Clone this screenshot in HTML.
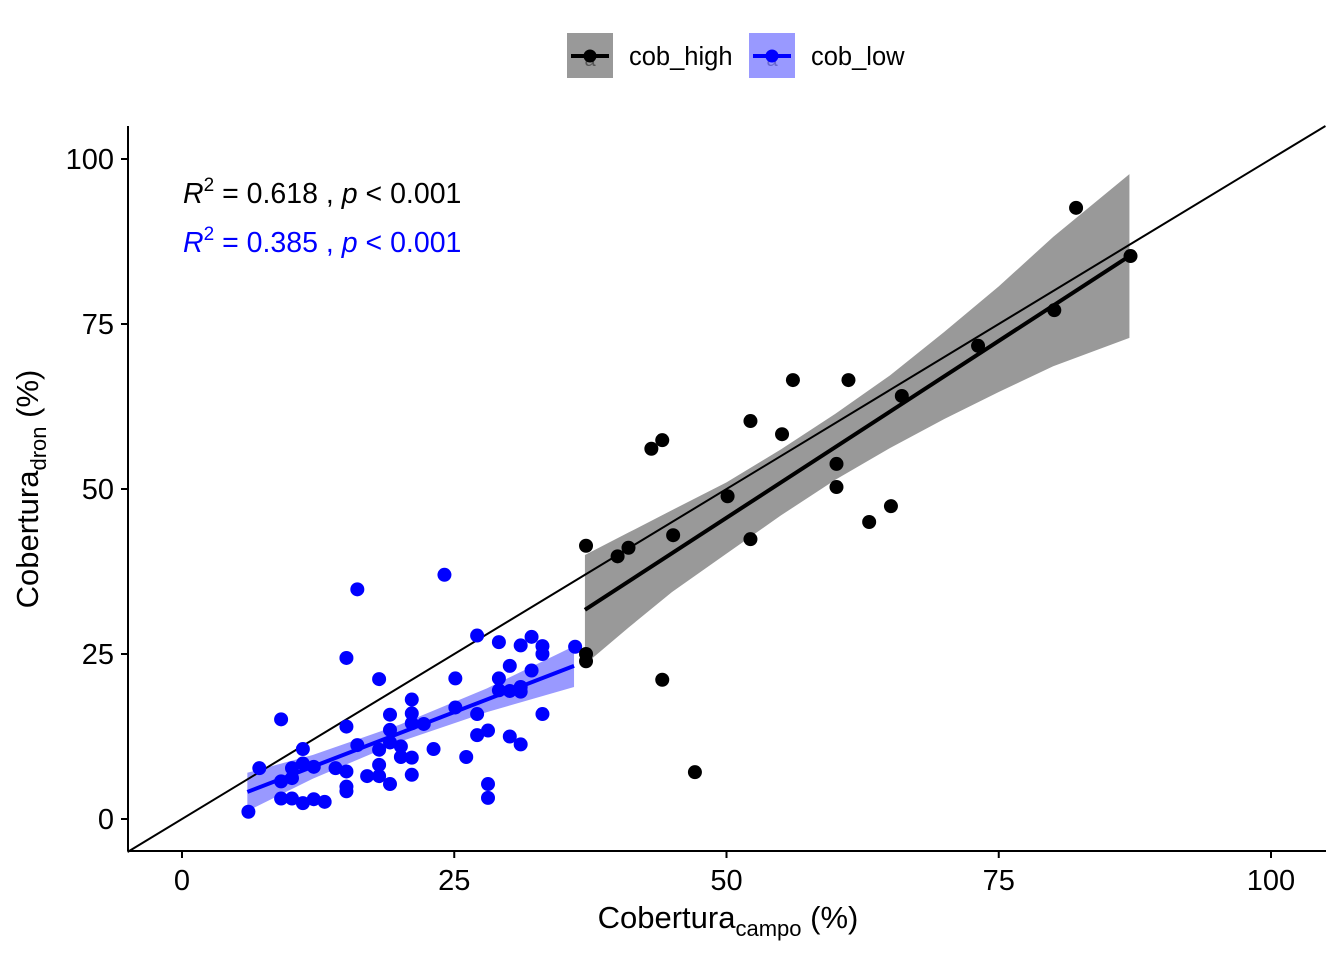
<!DOCTYPE html>
<html><head><meta charset="utf-8"><style>
html,body{margin:0;padding:0;background:#fff;}
svg{display:block;font-family:"Liberation Sans",Arial,sans-serif;}
</style></head><body>
<svg id="chart" width="1344" height="960" viewBox="0 0 1344 960" xmlns="http://www.w3.org/2000/svg">
<g id="bands"></g><g id="lines"></g><g id="points"></g><g id="axes"></g>
<g>
  <g>
    <rect x="567" y="33" width="46" height="45" fill="#999999"/>
    <text x="590" y="66" font-size="20" text-anchor="middle" fill="#555">a</text>
    <line x1="571" y1="56" x2="609" y2="56" stroke="#000" stroke-width="4"/>
    <circle cx="590" cy="56" r="6.5" fill="#000"/>
    <text x="629" y="65" font-size="25.5" fill="#000">cob_high</text>
  </g>
  <g>
    <rect x="749" y="33" width="46" height="45" fill="#9999ff"/>
    <text x="772" y="66" font-size="20" text-anchor="middle" fill="#6666cc">a</text>
    <line x1="753" y1="56" x2="791" y2="56" stroke="#0000ff" stroke-width="4"/>
    <circle cx="772" cy="56" r="6.5" fill="#0000ff"/>
    <text x="811" y="65" font-size="25.5" fill="#000">cob_low</text>
  </g>
</g>
<text x="183" y="203" font-size="28.5" fill="#000"><tspan font-style="italic">R</tspan><tspan dy="-12" font-size="19">2</tspan><tspan dy="12"> = 0.618 , </tspan><tspan font-style="italic">p</tspan> &lt; 0.001</text>
<text x="183" y="252" font-size="28.5" fill="#0000ff"><tspan font-style="italic">R</tspan><tspan dy="-12" font-size="19">2</tspan><tspan dy="12"> = 0.385 , </tspan><tspan font-style="italic">p</tspan> &lt; 0.001</text>
<text x="728" y="928" font-size="31" text-anchor="middle">Cobertura<tspan font-size="22" dy="8">campo</tspan><tspan dy="-8"> (%)</tspan></text>
<text transform="translate(38,489) rotate(-90)" font-size="31" text-anchor="middle">Cobertura<tspan font-size="22" dy="8">dron</tspan><tspan dy="-8"> (%)</tspan></text>
</svg>
<script>
const highX=[82.1,87.1,80.1,73.1,66.1,56.1,61.2,52.2,55.1,44.1,43.1,60.1,60.1,50.1,65.1,63.1,45.1,52.2,37.1,41,40,37.1,37.1,44.1,47.1];
const highY=[92.6,85.3,77.1,71.7,64.1,66.5,66.5,60.3,58.3,57.4,56.1,53.8,50.3,48.9,47.4,45,43,42.4,41.4,41.1,39.8,25,23.9,21.1,7.1];
const lowX=[24.1,16.1,27.1,29.1,32.1,31.1,33.1,33.1,36.1,15.1,30.1,32.1,18.1,25.1,29.1,29.1,30.1,31.1,31.1,21.1,25.1,27.1,33.1,9.1,19.1,21.1,15.1,21.1,22.2,19.1,27.1,28.1,30.1,31.1,16.1,11.1,18.1,19.1,20.1,23.1,20.1,21.1,26.1,7.1,10.1,11.1,12.1,14.1,15.1,18.1,10.1,9.1,17,18.1,19.1,21.1,15.1,15.1,28.1,28.1,9.1,10.1,11.1,12.1,13.1,6.1];
const lowY=[37,34.8,27.8,26.8,27.6,26.3,26.2,25,26.1,24.4,23.2,22.5,21.2,21.3,21.3,19.5,19.4,20,19.3,18.1,16.9,15.9,15.9,15.1,15.8,16,14,14.5,14.4,13.5,12.7,13.4,12.5,11.3,11.2,10.6,10.5,11.6,11,10.6,9.4,9.3,9.4,7.7,7.7,8.4,7.9,7.7,7.2,8.2,6.2,5.7,6.5,6.5,5.3,6.7,4.9,4.2,5.3,3.2,3.1,3.1,2.4,3,2.6,1.1];
const highFitX=[37,87];
const highFitY=[31.7,85.3];
const highBandX=[37,41,45,50,55,60,65,70,75,80,87];
const highBandLo=[23.4,29.0,34.4,40.2,46.0,51.4,56.2,60.6,64.7,68.6,72.9];
const highBandHi=[40.0,43.4,46.8,51.0,56.0,61.4,67.2,73.8,80.7,88.2,97.7];
const lowFitX=[6,36];
const lowFitY=[4.1,23.2];
const lowBandX=[6,12,20,28,36];
const lowBandLo=[1.2,6.1,11.7,16.2,20.0];
const lowBandHi=[7.0,9.7,14.3,19.8,26.2];
const xTicks=[0,25,50,75,100];
const yTicks=[0,25,50,75,100];
const sx=v=>182+v*10.89, sy=v=>819-v*6.6;
const NS="http://www.w3.org/2000/svg";
function mk(t,a,p){const e=document.createElementNS(NS,t);for(const k in a)e.setAttribute(k,a[k]);p.appendChild(e);return e;}
const bands=document.getElementById('bands'),lines=document.getElementById('lines'),pts=document.getElementById('points'),axes=document.getElementById('axes');
function band(xs,lo,hi,fill,name){let d=xs.map((x,i)=>(i?'L':'M')+sx(x)+','+sy(hi[i])).join('');for(let i=xs.length-1;i>=0;i--)d+='L'+sx(xs[i])+','+sy(lo[i]);d+='Z';
const p=mk('path',{d:d,fill:fill},bands);

}
band(highBandX,highBandLo,highBandHi,'#999999','high-confidence-band');
band(lowBandX,lowBandLo,lowBandHi,'#9999ff','low-confidence-band');
const ref=mk('line',{x1:sx(-5),y1:sy(-5),x2:sx(105),y2:sy(105),stroke:'#000','stroke-width':2},lines);


const hl=mk('line',{x1:sx(highFitX[0]),y1:sy(highFitY[0]),x2:sx(highFitX[1]),y2:sy(highFitY[1]),stroke:'#000','stroke-width':4},lines);


const ll=mk('line',{x1:sx(lowFitX[0]),y1:sy(lowFitY[0]),x2:sx(lowFitX[1]),y2:sy(lowFitY[1]),stroke:'#0000ff','stroke-width':4},lines);


lowX.forEach((x,i)=>{const c=mk('circle',{cx:sx(x),cy:sy(lowY[i]),r:7,fill:'#0000ff'},pts);

});
highX.forEach((x,i)=>{const c=mk('circle',{cx:sx(x),cy:sy(highY[i]),r:7,fill:'#000'},pts);

});
const xa=mk('line',{x1:128,y1:851,x2:1326,y2:851,stroke:'#000','stroke-width':2},axes);


const ya=mk('line',{x1:128,y1:126,x2:128,y2:851,stroke:'#000','stroke-width':2},axes);


xTicks.forEach(v=>{mk('line',{x1:sx(v),y1:851,x2:sx(v),y2:858,stroke:'#000','stroke-width':2},axes);
const t=mk('text',{x:sx(v),y:890,'font-size':29,'text-anchor':'middle',fill:'#000'},axes);t.textContent=v;

});
yTicks.forEach(v=>{mk('line',{x1:121,y1:sy(v),x2:128,y2:sy(v),stroke:'#000','stroke-width':2},axes);
const t=mk('text',{x:114,y:sy(v)+10,'font-size':29,'text-anchor':'end',fill:'#000'},axes);t.textContent=v;

});
</script>
</body></html>
